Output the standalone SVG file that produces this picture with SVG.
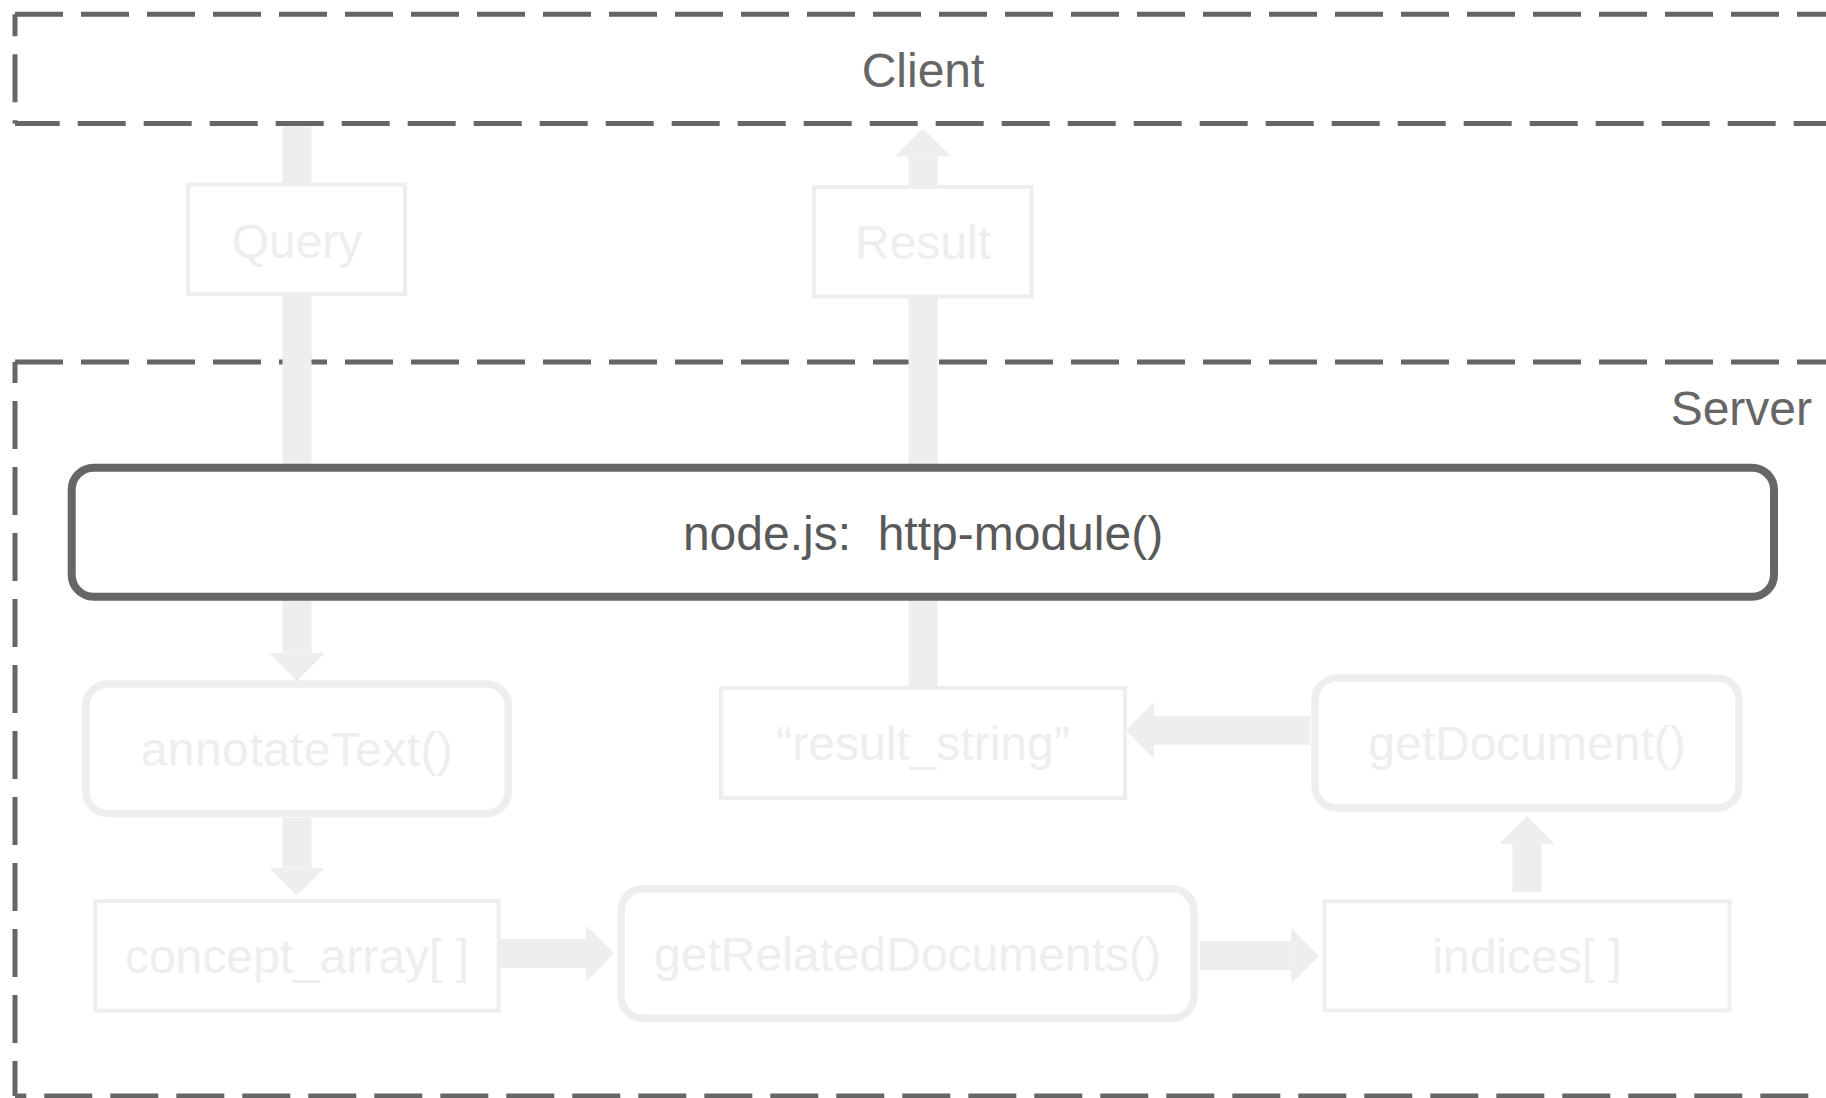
<svg xmlns="http://www.w3.org/2000/svg" width="1826" height="1098" viewBox="0 0 1826 1098">
  <style>
    .dash { fill: none; stroke: #666666; stroke-width: 5; stroke-dasharray: 48 18; }
    .lbl { font-family: "Liberation Sans", Arial, sans-serif; font-size: 48px; text-anchor: middle; }
    .dark { fill: #666666; }
    .light { fill: #eeeeee; }
    .box { fill: #ffffff; stroke: #eeeeee; stroke-width: 4; }
    .rbox { fill: #ffffff; stroke: #eeeeee; stroke-width: 7.5; }
    .conn { fill: none; stroke: #eeeeee; stroke-width: 29; stroke-linecap: butt; }
  </style>
  <defs>
    <marker id="head" viewBox="0 -28 28 56" refX="0" refY="0" markerWidth="28" markerHeight="56" markerUnits="userSpaceOnUse" orient="auto">
      <path d="M0,-28 L28,0 L0,28 Z" fill="#eeeeee"/>
    </marker>
  </defs>
  <rect x="0" y="0" width="1826" height="1098" fill="#ffffff"/>

  <g id="client">
    <path class="dash" d="M15,14.3 H1830"/>
    <path class="dash" d="M15,14.3 V123.5" stroke-dashoffset="26"/>
    <path class="dash" d="M15,123.5 H1830" stroke-dashoffset="3.3"/>
    <text class="lbl dark" x="923" y="87">Client</text>
  </g>

  <g id="server">
    <path class="dash" d="M15,362 H1830"/>
    <path class="dash" d="M15,362 V1096" stroke-dashoffset="27"/>
    <path class="dash" d="M15,1096 H1830" stroke-dashoffset="36.7"/>
    <text class="lbl dark" x="1812" y="425" style="text-anchor:end">Server</text>
  </g>

  <g id="connectors">
    <path class="conn" d="M297,126.5 V184"/>
    <path class="conn" d="M297,296 V652.7" marker-end="url(#head)"/>
    <path class="conn" d="M297,818 V867.5" marker-end="url(#head)"/>
    <path class="conn" d="M500,953.5 H586" marker-end="url(#head)"/>
    <path class="conn" d="M1200,955.8 H1291.3" marker-end="url(#head)"/>
    <path class="conn" d="M1527,892.3 V844" marker-end="url(#head)"/>
    <path class="conn" d="M1310,730.3 H1154" marker-end="url(#head)"/>
    <path class="conn" d="M923,686 V297"/>
    <path class="conn" d="M923,186 V156.5" marker-end="url(#head)"/>
  </g>

  <g id="query">
    <rect class="box" x="188" y="184.5" width="217" height="109.5"/>
    <text class="lbl light" x="297" y="258">Query</text>
  </g>

  <g id="result">
    <rect class="box" x="814" y="187" width="217.5" height="109.5"/>
    <text class="lbl light" x="923" y="259">Result</text>
  </g>

  <g id="http-module">
    <rect x="71.7" y="467.7" width="1702.3" height="129" rx="22" ry="22" fill="#ffffff" stroke="#666666" stroke-width="8"/>
    <text class="lbl" x="923" y="549.5" fill="#595959">node.js:&#160; http-module()</text>
  </g>

  <g id="annotateText">
    <rect class="rbox" x="85.8" y="684" width="422.5" height="129.5" rx="22" ry="22"/>
    <text class="lbl light" x="297" y="765.7" style="letter-spacing:0.4px">annotateText()</text>
  </g>

  <g id="result_string">
    <rect class="box" x="721" y="688" width="404" height="110"/>
    <text class="lbl light" x="923" y="760">“result_string”</text>
  </g>

  <g id="getDocument">
    <rect class="rbox" x="1315" y="678" width="424" height="130" rx="22" ry="22"/>
    <text class="lbl light" x="1527" y="760">getDocument()</text>
  </g>

  <g id="concept_array">
    <rect class="box" x="95.3" y="901" width="403.4" height="109.7"/>
    <text class="lbl light" x="297" y="973">concept_array[ ]</text>
  </g>

  <g id="getRelatedDocuments">
    <rect class="rbox" x="621" y="888.8" width="573" height="129.5" rx="22" ry="22"/>
    <text class="lbl light" x="907.5" y="971">getRelatedDocuments()</text>
  </g>

  <g id="indices">
    <rect class="box" x="1324.5" y="901.2" width="405" height="109.3"/>
    <text class="lbl light" x="1527" y="973.3">indices[ ]</text>
  </g>
</svg>
